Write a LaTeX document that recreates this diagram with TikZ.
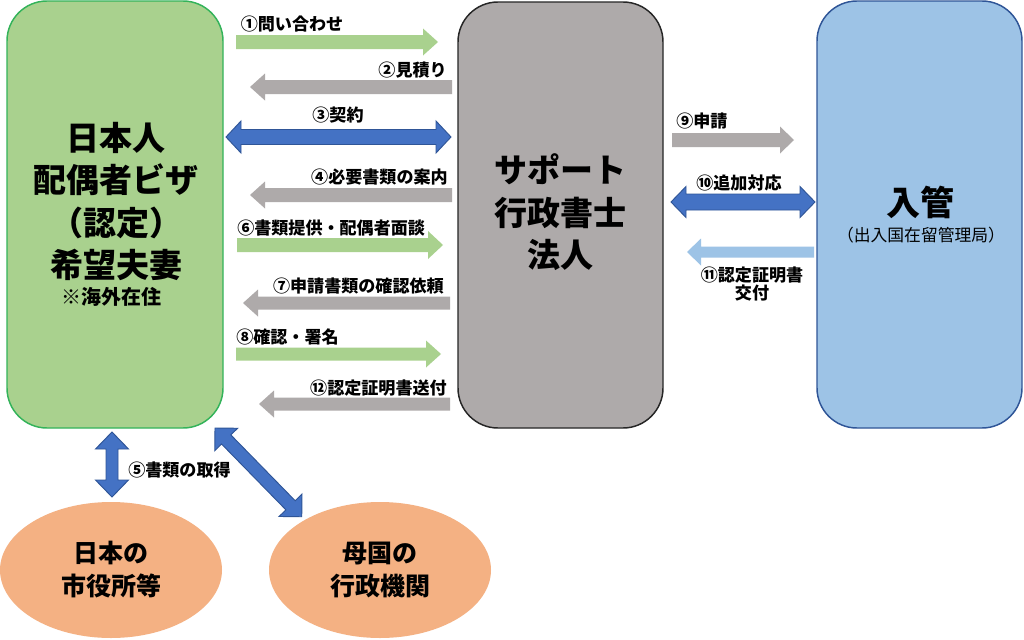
\documentclass[tikz,border=0pt]{standalone}
\usepackage{fontspec}
\setmainfont{Noto Sans CJK JP}
\usetikzlibrary{shapes.geometric}
\definecolor{boxgreen}{HTML}{A9D18E}
\definecolor{boxgreenline}{HTML}{33B35A}
\definecolor{boxgrey}{HTML}{AEAAAA}
\definecolor{boxgreyline}{HTML}{262626}
\definecolor{boxblue}{HTML}{9DC3E6}
\definecolor{boxblueline}{HTML}{2F5597}
\definecolor{ellorange}{HTML}{F4B183}
\definecolor{arrblue}{HTML}{4472C4}
\definecolor{arrblueline}{HTML}{2F5597}
\newcommand\arrowgeom[2]{%
  \pgfpointdiff{\pgfpointanchor{#1}{center}}{\pgfpointanchor{#2}{center}}%
  \pgfgetlastxy{\badx}{\bady}%
  \pgfmathsetmacro\baAng{atan2(\bady,\badx)}%
  \pgfmathsetmacro\baLen{veclen(\badx,\bady)}}
% single block arrow: style, from, to, shaft half width, head half width, head length (px)
\newcommand\sarrow[6]{\arrowgeom{#2}{#3}%
  \begin{scope}[shift={(#2)},rotate=\baAng]
  \path[#1] (0pt,{#4*0.75pt}) -- ({\baLen pt-#6*0.75pt},{#4*0.75pt})
    -- ({\baLen pt-#6*0.75pt},{#5*0.75pt}) -- ({\baLen pt},0pt)
    -- ({\baLen pt-#6*0.75pt},{-#5*0.75pt}) -- ({\baLen pt-#6*0.75pt},{-#4*0.75pt})
    -- (0pt,{-#4*0.75pt}) -- cycle;
  \end{scope}}
% double block arrow
\newcommand\darrow[6]{\arrowgeom{#2}{#3}%
  \begin{scope}[shift={(#2)},rotate=\baAng]
  \path[#1] (0pt,0pt) -- ({#6*0.75pt},{#5*0.75pt}) -- ({#6*0.75pt},{#4*0.75pt})
    -- ({\baLen pt-#6*0.75pt},{#4*0.75pt}) -- ({\baLen pt-#6*0.75pt},{#5*0.75pt})
    -- ({\baLen pt},0pt)
    -- ({\baLen pt-#6*0.75pt},{-#5*0.75pt}) -- ({\baLen pt-#6*0.75pt},{-#4*0.75pt})
    -- ({#6*0.75pt},{-#4*0.75pt}) -- ({#6*0.75pt},{-#5*0.75pt}) -- cycle;
  \end{scope}}
\begin{document}
\begin{tikzpicture}[x=0.75pt,y=-0.75pt,
  box/.style={rounded corners=30pt, line width=1.1pt, inner sep=0pt},
  bigtext/.style={inner sep=0pt, align=center, font=\fontsize{24.75}{31.8}\selectfont\bfseries},
  elltext/.style={ellipse, fill=ellorange, inner sep=0pt, align=center,
    minimum width=166.5pt, minimum height=102pt, font=\fontsize{18.75}{24.75}\selectfont\bfseries},
  lbl/.style={inner sep=0pt, align=center, font=\fontsize{12.8}{13.5}\selectfont\bfseries},
  greenarr/.style={fill=boxgreen},
  greyarr/.style={fill=boxgrey},
  lbluearr/.style={fill=boxblue},
  bluearr/.style={fill=arrblue, draw=arrblueline, line width=0.7pt, line join=miter}]
\useasboundingbox (0,0) rectangle (1024,639);
\fill[white] (0,0) rectangle (1024,639);

% boxes
\node[box, draw=boxgreenline, fill=boxgreen, minimum width=162pt, minimum height=320.25pt] (client) at (115,214.5) {};
\node[box, draw=boxgreyline, fill=boxgrey, minimum width=153.75pt, minimum height=319.5pt] (office) at (560.5,215) {};
\node[box, draw=boxblueline, fill=boxblue, minimum width=153.75pt, minimum height=320.25pt] (imm) at (919.5,214.5) {};

\node[bigtext] (clienttxt) at (116,201.5) {日本人\\配偶者ビザ\\（認定）\\希望夫妻};
\node[inner sep=0pt, font=\fontsize{15}{18}\selectfont\bfseries] (clientnote) at (111,297) {※海外在住};
\node[bigtext] (officetxt) at (560,212.5) {サポート\\行政書士\\法人};
\node[inner sep=0pt, font=\fontsize{25.5}{30}\selectfont\bfseries] (immtxt) at (920,202) {入管};
\node[inner sep=0pt, font=\fontsize{12.6}{14}\selectfont] (immsub) at (921,235) {（出入国在留管理局）};

% ellipses
\node[elltext] (cityhall) at (111,570) {日本の\\市役所等};
\node[elltext] (homegov) at (380,570) {母国の\\行政機関};

% arrow end points
\coordinate (a1s) at (236,42);  \coordinate (a1e) at (438,42);
\coordinate (a2s) at (452,87);  \coordinate (a2e) at (250,87);
\coordinate (a3s) at (226,137); \coordinate (a3e) at (451,137);
\coordinate (a4s) at (452,195); \coordinate (a4e) at (250,195);
\coordinate (a6s) at (237,245); \coordinate (a6e) at (443,245);
\coordinate (a7s) at (450,303); \coordinate (a7e) at (243,303);
\coordinate (a8s) at (236,354); \coordinate (a8e) at (441,354);
\coordinate (a12s) at (450,404); \coordinate (a12e) at (259,404);
\coordinate (a9s) at (672,140); \coordinate (a9e) at (794,140);
\coordinate (a10s) at (671,202); \coordinate (a10e) at (815,202);
\coordinate (a11s) at (814,252); \coordinate (a11e) at (687,252);
\coordinate (a5s) at (112,432); \coordinate (a5e) at (112,497);
\coordinate (adgs) at (215,428); \coordinate (adge) at (302,517);

% arrows
\sarrow{greenarr}{a1s}{a1e}{7}{13.5}{15}
\sarrow{greyarr}{a2s}{a2e}{7}{13.5}{15}
\darrow{bluearr}{a3s}{a3e}{7.5}{16}{15}
\sarrow{greyarr}{a4s}{a4e}{7}{13.5}{15}
\sarrow{greenarr}{a6s}{a6e}{7}{14}{15}
\sarrow{greyarr}{a7s}{a7e}{6.5}{13.5}{15}
\sarrow{greenarr}{a8s}{a8e}{6.5}{13.5}{15}
\sarrow{greyarr}{a12s}{a12e}{6.5}{13.5}{15}
\sarrow{greyarr}{a9s}{a9e}{7}{13.5}{14}
\darrow{bluearr}{a10s}{a10e}{8}{15.5}{15}
\sarrow{lbluearr}{a11s}{a11e}{5.5}{13.5}{14}
\darrow{bluearr}{a5s}{a5e}{6}{16.5}{17}
\darrow{bluearr}{adgs}{adge}{6.5}{16}{16}

% labels
\node[lbl] (l1) at (292,24) {①問い合わせ};
\node[lbl, anchor=east] (l2) at (447,70) {②見積り};
\node[lbl] (l3) at (338,115) {③契約};
\node[lbl, anchor=east] (l4) at (448,177) {④必要書類の案内};
\node[lbl, anchor=west] (l5) at (128,470) {⑤書類の取得};
\node[lbl, anchor=west] (l6) at (237,228) {⑥書類提供・配偶者面談};
\node[lbl, anchor=east] (l7) at (444,286) {⑦申請書類の確認依頼};
\node[lbl, anchor=west] (l8) at (236,337) {⑧確認・署名};
\node[lbl, anchor=west] (l9) at (676,121) {⑨申請};
\node[lbl] (l10) at (739,183) {⑩追加対応};
\node[lbl] (l11) at (752,284) {⑪認定証明書\\交付};
\node[lbl, anchor=east] (l12) at (447,388) {⑫認定証明書送付};
\end{tikzpicture}
\end{document}
